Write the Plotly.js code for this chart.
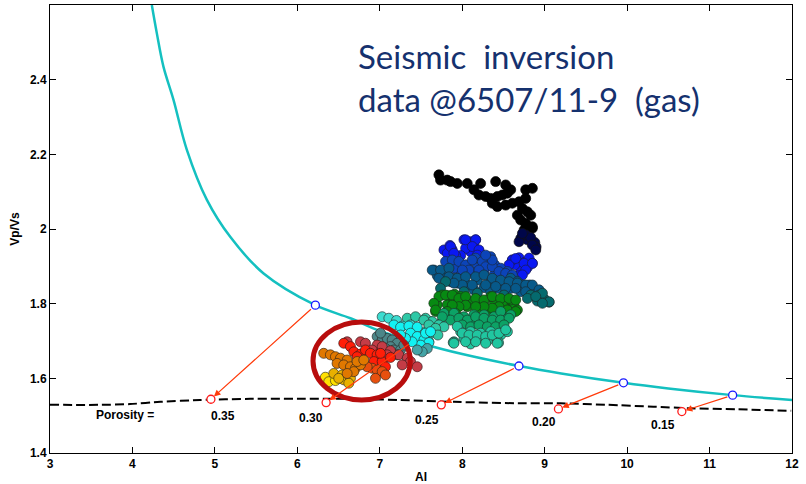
<!DOCTYPE html>
<html>
<head>
<meta charset="utf-8">
<script src="https://cdn.plot.ly/plotly-3.0.1.min.js"></script>
<style>
  html, body { margin: 0; padding: 0; background: #ffffff; }
  #chart { width: 806px; height: 484px; }
</style>
</head>
<body>
<div id="chart"></div>
<script>
// Constant-cement / rock-physics template curve (AI vs Vp/Vs)
const curveAI   = [4.235, 4.296, 4.376, 4.498, 4.660, 4.903, 5.186, 5.591, 6.219, 6.644, 7.000, 7.494, 8.000, 8.688, 9.200, 9.956, 10.500, 11.280, 12.000];
const curveVpVs = [2.600, 2.524, 2.435, 2.346, 2.212, 2.078, 1.979, 1.881, 1.796, 1.761, 1.727, 1.694, 1.665, 1.633, 1.613, 1.588, 1.573, 1.555, 1.542];

// Dashed porosity trend line
const trendAI   = [3.00, 3.61, 3.97, 4.34, 4.82, 5.43, 6.04, 6.64, 7.25, 7.90, 8.71, 9.19, 9.77, 10.32, 10.74, 11.34, 11.99];
const trendVpVs = [1.529, 1.529, 1.531, 1.537, 1.542, 1.545, 1.545, 1.545, 1.542, 1.537, 1.533, 1.533, 1.529, 1.524, 1.520, 1.517, 1.513];

// Porosity points on the template curve and their projections
const porosityLabels = ['0.35', '0.30', '0.25', '0.20', '0.15'];
const curvePtAI   = [6.219, 7.410, 8.688, 9.956, 11.280];
const curvePtVpVs = [1.796, 1.700, 1.633, 1.588, 1.555];
const trendPtAI   = [4.952, 6.349, 7.746, 9.167, 10.664];
const trendPtVpVs = [1.544, 1.535, 1.529, 1.518, 1.511];

// Inverted seismic samples, grouped by colour class
const blackAI = [7.717,7.737,7.818,7.859,7.940,8.061,8.142,8.223,8.406,8.527,8.588,8.203,8.284,8.345,8.426,8.487,8.547,8.770,8.851,8.365,8.426,8.527,8.608,8.689,8.770,8.730,8.790,8.831,8.669,8.709,8.770,8.851,8.750,8.851];
const blackVpVs = [2.145,2.131,2.131,2.127,2.122,2.122,2.105,2.122,2.127,2.118,2.105,2.091,2.087,2.082,2.087,2.091,2.096,2.105,2.109,2.069,2.060,2.064,2.069,2.073,2.082,2.055,2.046,2.037,2.037,2.024,2.015,2.006,1.997,2.002];

const navyAI = [8.710,8.791,8.880,8.896,8.689,8.770,8.831,8.730,8.851,8.892];
const navyVpVs = [1.975,1.971,1.964,1.952,1.966,1.984,1.977,1.988,1.957,1.944];

const blueAI = [7.778,7.851,7.879,7.819,8.021,8.094,8.163,8.142,8.203,8.102,8.041,7.981,7.920,8.244,8.608,8.689,8.758,8.811,8.851,8.791,8.710,8.637,8.689,7.859,7.899,8.041,8.163,8.122,8.203,8.183,8.608,8.568,8.649,8.750,8.851,8.770,8.730];
const blueVpVs = [1.944,1.956,1.944,1.935,1.971,1.966,1.971,1.956,1.941,1.939,1.948,1.929,1.929,1.929,1.917,1.923,1.911,1.922,1.908,1.897,1.888,1.904,1.875,1.953,1.935,1.971,1.971,1.953,1.944,1.930,1.917,1.904,1.921,1.908,1.908,1.890,1.877];

const midBlueAI = [7.859,7.940,8.062,8.183,8.305,8.394,8.467,8.548,8.264,8.386,8.102,7.981,7.900,8.163,8.345,8.507,8.628,7.798,7.879,7.960,8.041,8.122,8.244,8.284,8.365,8.365,8.082,8.203,8.001,8.446,8.527,8.608,8.284];
const midBlueVpVs = [1.913,1.904,1.899,1.906,1.911,1.904,1.895,1.886,1.886,1.877,1.886,1.886,1.895,1.922,1.926,1.872,1.868,1.913,1.917,1.913,1.904,1.917,1.913,1.899,1.899,1.917,1.890,1.890,1.890,1.886,1.881,1.877,1.930];

const tealBlueAI = [7.657,7.738,7.819,7.900,8.021,8.183,8.345,8.507,8.588,8.669,8.750,8.815,8.872,8.588,8.426,8.264,8.062,7.940,7.778,7.697,7.859,8.142,8.345,8.710,7.636,7.737,7.839,7.717,7.839,7.940,8.041,8.163,8.264,8.365,8.466,8.568,8.669,8.770,8.851,8.932,8.770,8.649,8.527,8.406,8.284,8.122,8.001,7.899];
const tealBlueVpVs = [1.890,1.884,1.877,1.868,1.868,1.863,1.859,1.857,1.868,1.859,1.850,1.850,1.837,1.841,1.841,1.843,1.850,1.855,1.868,1.875,1.859,1.837,1.832,1.832,1.890,1.890,1.895,1.868,1.872,1.868,1.872,1.872,1.877,1.868,1.863,1.859,1.855,1.850,1.850,1.837,1.832,1.841,1.841,1.846,1.850,1.850,1.850,1.855];

const darkTealAI = [8.932,8.993,9.054,8.912,8.973,8.831,8.791,8.507,8.183,8.021,8.892,9.054,8.973,7.798,7.737];
const darkTealVpVs = [1.823,1.813,1.804,1.807,1.828,1.823,1.814,1.823,1.828,1.832,1.819,1.805,1.801,1.859,1.841];

const greenAI = [7.758,7.839,7.908,7.981,8.021,8.102,8.183,8.264,8.386,8.507,8.628,8.669,8.548,8.406,8.305,8.183,8.062,7.940,7.819,7.697,7.677,7.900,8.345,8.588,7.717,7.798,7.879,7.960,8.041,8.163,8.264,8.365,8.466,8.568,8.649,8.446,8.547,8.649,8.365,8.264,8.163,8.041,7.960,7.879,7.656,7.677,7.818,7.920];
const greenVpVs = [1.823,1.821,1.825,1.819,1.801,1.806,1.810,1.797,1.806,1.797,1.797,1.783,1.783,1.788,1.783,1.788,1.792,1.792,1.797,1.797,1.779,1.807,1.819,1.810,1.819,1.823,1.823,1.814,1.819,1.814,1.810,1.819,1.814,1.814,1.810,1.792,1.783,1.779,1.788,1.792,1.792,1.796,1.792,1.796,1.801,1.783,1.779,1.774];

const greenTealAI = [7.778,7.900,8.021,8.142,8.264,8.386,8.507,8.588,8.467,7.616,7.738,7.981,8.102,8.224,8.345,8.467,7.859,7.960,8.061,8.163,8.264,8.365,8.466,8.568,8.001,8.102,8.203,8.304,8.406,8.507,7.758];
const greenTealVpVs = [1.774,1.774,1.765,1.770,1.770,1.765,1.761,1.770,1.779,1.752,1.747,1.747,1.752,1.747,1.743,1.743,1.756,1.761,1.756,1.765,1.761,1.756,1.756,1.761,1.743,1.738,1.743,1.738,1.738,1.743,1.765];

const lightTealAI = [7.981,8.102,8.224,8.345,8.467,8.021,8.183,8.305,8.426,7.900,8.548,7.940,8.101,8.441,7.891,8.001,8.082,8.183,8.284,8.365,8.446,8.527,8.041,8.163,8.284,8.426,7.899];
const lightTealVpVs = [1.725,1.725,1.721,1.725,1.716,1.707,1.707,1.700,1.703,1.698,1.725,1.739,1.692,1.695,1.696,1.721,1.716,1.716,1.712,1.716,1.721,1.730,1.698,1.698,1.694,1.694,1.694];

const midTealAI = [7.555,7.636,7.717,7.778,7.595,7.555,7.333,7.434,7.535,7.596,7.677,7.616,7.705];
const midTealVpVs = [1.761,1.752,1.743,1.738,1.698,1.725,1.761,1.765,1.756,1.743,1.734,1.721,1.716];

const cyanTealAI = [7.029,7.110,7.203,7.272,7.373];
const cyanTealVpVs = [1.765,1.761,1.755,1.740,1.743];

const cyanAI = [7.171,7.252,7.353,7.454,7.373,7.454,7.535,7.596,7.495,7.393,7.312,7.252,7.555,7.616];
const cyanVpVs = [1.743,1.737,1.740,1.737,1.721,1.712,1.703,1.696,1.689,1.698,1.707,1.716,1.721,1.725];

const paleTealAI = [7.576,7.515,7.454];
const paleTealVpVs = [1.680,1.671,1.676];

const grayTealAI = [6.968,7.029,7.090,7.150,7.211,7.130,7.069,7.171,7.252,7.211,7.009,7.292];
const grayTealVpVs = [1.712,1.703,1.707,1.703,1.694,1.685,1.680,1.676,1.676,1.663,1.721,1.689];

const maroonAI = [6.604,6.766,6.826,6.968,7.029,7.130,7.231,7.333,7.373,7.454,7.272,7.090,6.907];
const maroonVpVs = [1.698,1.698,1.694,1.689,1.685,1.674,1.663,1.654,1.645,1.631,1.636,1.663,1.676];

const redAI = [6.563,6.644,6.685,6.766,6.826,6.887,6.968,6.928,7.029,7.069,7.130,7.009,6.725];
const redVpVs = [1.694,1.685,1.671,1.665,1.676,1.667,1.663,1.645,1.645,1.631,1.656,1.667,1.658];

const orangeRedAI = [6.907,6.968,7.029,6.948,7.069,6.847];
const orangeRedVpVs = [1.627,1.622,1.618,1.600,1.609,1.631];

const yellowAI = [6.340,6.381,6.462];
const yellowVpVs = [1.603,1.591,1.594];

const yellowOrangeAI = [6.442,6.543,6.563,6.644,6.502,6.624];
const yellowOrangeVpVs = [1.613,1.609,1.596,1.600,1.600,1.587];

const orangeAI = [6.320,6.401,6.462,6.523,6.604,6.482,6.563,6.644,6.705,6.766,6.725,6.685,6.604,6.806];
const orangeVpVs = [1.667,1.663,1.658,1.654,1.649,1.640,1.636,1.631,1.627,1.636,1.645,1.618,1.613,1.649];

const xTicks = [3, 4, 5, 6, 7, 8, 9, 10, 11, 12];
const yTicks = [1.4, 1.6, 1.8, 2.0, 2.2, 2.4];
const yTickText = ['1.4', '1.6', '1.8', '2', '2.2', '2.4'];

// ---- traces ----
const traces = [];

traces.push({
  x: curveAI, y: curveVpVs, type: 'scatter', mode: 'lines',
  line: { color: '#14c0c0', width: 2.5, shape: 'spline', smoothing: 1.0 },
  hoverinfo: 'skip'
});
traces.push({
  x: trendAI, y: trendVpVs, type: 'scatter', mode: 'lines',
  line: { color: '#000000', width: 2, dash: '9px,4px', shape: 'spline', smoothing: 0.5 },
  hoverinfo: 'skip'
});
traces.push({
  x: curvePtAI, y: curvePtVpVs, type: 'scatter', mode: 'markers',
  marker: { symbol: 'circle', size: 8, color: '#ffffff', line: { color: '#1a1aff', width: 1.3 } }
});
traces.push({
  x: trendPtAI, y: trendPtVpVs, type: 'scatter', mode: 'markers',
  marker: { symbol: 'circle', size: 8, color: '#ffffff', line: { color: '#ff1a1a', width: 1.3 } }
});

const groups = [
  [blackAI, blackVpVs, '#000000', '#000000'],
  [navyAI, navyVpVs, '#00064a', '#111111'],
  [blueAI, blueVpVs, '#0a18f2', '#1b1b4a'],
  [midBlueAI, midBlueVpVs, '#0c44b8', '#1a2a40'],
  [tealBlueAI, tealBlueVpVs, '#07598a', '#1a2a33'],
  [darkTealAI, darkTealVpVs, '#056a6e', '#1a2a2a'],
  [greenAI, greenVpVs, '#078a12', '#1a331a'],
  [greenTealAI, greenTealVpVs, '#0ca266', '#1a3a2a'],
  [lightTealAI, lightTealVpVs, '#20c6a0', '#2a3a33'],
  [midTealAI, midTealVpVs, '#2ec8a6', '#2a3a33'],
  [cyanTealAI, cyanTealVpVs, '#3cdcd0', '#2a3a3a'],
  [cyanAI, cyanVpVs, '#12f2f2', '#2a3a3a'],
  [paleTealAI, paleTealVpVs, '#44a4a6', '#2a3333'],
  [grayTealAI, grayTealVpVs, '#4c8688', '#2a2a2a'],
  [maroonAI, maroonVpVs, '#c43c46', '#3a1a1a'],
  [redAI, redVpVs, '#ff1e08', '#3a1a1a'],
  [orangeRedAI, orangeRedVpVs, '#e8500e', '#3a2a1a'],
  [yellowAI, yellowVpVs, '#ffe000', '#3a3a1a'],
  [yellowOrangeAI, yellowOrangeVpVs, '#e8b000', '#3a331a'],
  [orangeAI, orangeVpVs, '#e07800', '#3a2a1a']
];
groups.forEach(g => {
  traces.push({
    x: g[0], y: g[1], type: 'scatter', mode: 'markers',
    marker: { symbol: 'circle', size: 10, color: g[2], line: { color: g[3], width: 0.7 } }
  });
});

// ---- annotations: projection arrows and labels ----
const annotations = [];
for (let i = 0; i < curvePtAI.length; i++) {
  annotations.push({
    x: trendPtAI[i], y: trendPtVpVs[i], xref: 'x', yref: 'y',
    ax: curvePtAI[i], ay: curvePtVpVs[i], axref: 'x', ayref: 'y',
    text: '', showarrow: true, arrowhead: 2, arrowsize: 1.1, arrowwidth: 1.2,
    arrowcolor: '#ff3a0a', standoff: 4, startstandoff: 4
  });
}
const labelFont = { family: 'Liberation Sans, Arial, sans-serif', size: 12, color: '#000000', weight: 'bold' };
const labelAI = [5.101, 6.170, 7.567, 8.994, 10.433];
const labelVpVs = [1.498, 1.494, 1.488, 1.483, 1.474];
annotations.push({
  x: 3.911, y: 1.502, xref: 'x', yref: 'y', text: 'Porosity =',
  showarrow: false, font: labelFont
});
porosityLabels.forEach((t, i) => {
  annotations.push({
    x: labelAI[i], y: labelVpVs[i], xref: 'x', yref: 'y', text: t,
    showarrow: false, font: labelFont
  });
});
const headFont = { family: 'Lato, "Open Sans", sans-serif', size: 33, color: '#15316e' };
annotations.push({
  x: 0.412, y: 0.886, xref: 'paper', yref: 'paper', xanchor: 'left', yanchor: 'middle',
  text: 'Seismic  inversion', showarrow: false, font: headFont
});
annotations.push({
  x: 0.412, y: 0.790, xref: 'paper', yref: 'paper', xanchor: 'left', yanchor: 'middle',
  text: 'data @6507/11-9  (gas)', showarrow: false, font: headFont
});

const axisFont = { family: 'Liberation Sans, Arial, sans-serif', size: 12, color: '#000000', weight: 'bold' };

const layout = {
  width: 806, height: 484,
  margin: { l: 50, r: 14, t: 5, b: 31 },
  paper_bgcolor: '#ffffff', plot_bgcolor: '#ffffff',
  showlegend: false,
  xaxis: {
    range: [3, 12], tickvals: xTicks, ticks: 'inside', ticklen: 6, tickwidth: 1,
    tickcolor: '#000000', showline: true, linecolor: '#000000', linewidth: 1,
    mirror: 'allticks', showgrid: false, zeroline: false, tickfont: axisFont,
    title: { text: 'AI', font: axisFont, standoff: 2 }, automargin: false
  },
  yaxis: {
    range: [1.4, 2.6], tickvals: yTicks, ticktext: yTickText, ticks: 'inside', ticklen: 6,
    tickwidth: 1, tickcolor: '#000000', showline: true, linecolor: '#000000', linewidth: 1,
    mirror: 'allticks', showgrid: false, zeroline: false, tickfont: axisFont,
    title: { text: 'Vp/Vs', font: axisFont, standoff: 7 }, automargin: true
  },
  shapes: [{
    type: 'circle', xref: 'x', yref: 'y', x0: 6.19, x1: 7.37, y0: 1.542, y1: 1.751,
    line: { color: '#b80d0d', width: 5 }, layer: 'above'
  }],
  annotations: annotations
};

Plotly.newPlot('chart', traces, layout, { displayModeBar: false, staticPlot: true });
</script>
</body>
</html>
